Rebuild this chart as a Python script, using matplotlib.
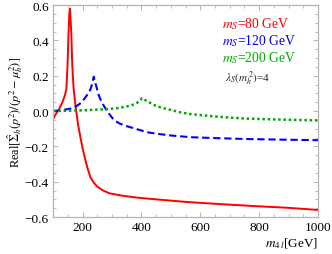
import numpy as np
import matplotlib
matplotlib.use("Agg")
import matplotlib.pyplot as plt
from matplotlib.ticker import MultipleLocator

plt.rcParams['font.family'] = ['Liberation Serif', 'DejaVu Serif']
plt.rcParams['mathtext.fontset'] = 'stix'

# m_S = 80 GeV
m_red = [100, 108, 120, 130, 135, 140, 145, 149, 152.5, 155, 157, 159, 161.6, 165, 169.5, 174,
         178.6, 185, 193, 200, 210, 218, 227, 238, 250, 270, 290, 330, 385, 450, 555, 650, 783, 900, 1000]
v_red = [-0.045, -0.02, 0.01, 0.045, 0.065, 0.09, 0.125, 0.26, 0.447, 0.55, 0.58, 0.53, 0.447, 0.26, 0.13, 0.06,
         0.0, -0.08, -0.151, -0.21, -0.28, -0.33, -0.376, -0.405, -0.428, -0.45, -0.465, -0.478, -0.49, -0.50, -0.515, -0.525, -0.538, -0.548, -0.56]

# m_S = 120 GeV
m_blue = [100, 130, 169, 190, 203, 215, 226, 233, 238, 245, 255, 265, 277, 290, 306, 325,
          351, 380, 419, 460, 499, 567, 650, 750, 850, 1000]
v_blue = [0.0, 0.005, 0.017, 0.04, 0.063, 0.09, 0.12, 0.155, 0.195, 0.15, 0.09, 0.05, 0.017, -0.015, -0.05, -0.07,
          -0.086, -0.10, -0.12, -0.13, -0.138, -0.148, -0.153, -0.158, -0.161, -0.165]

# m_S = 200 GeV
m_green = [100, 150, 214, 282, 320, 350, 370, 384, 395, 402, 415, 442, 470, 499, 534, 567,
           646, 700, 761, 870, 1000]
v_green = [0.0, 0.002, 0.005, 0.011, 0.017, 0.026, 0.035, 0.045, 0.06, 0.073, 0.06, 0.035, 0.018, 0.007, -0.008, -0.017,
           -0.03, -0.037, -0.043, -0.048, -0.053]

fig = plt.figure(figsize=(3.32, 2.55), dpi=100)
ax = fig.add_axes([0.16, 0.145, 0.798, 0.831])

ax.plot(m_red, v_red, color='#ff0000', lw=1.4)
ax.plot(m_blue, v_blue, color='#0000ff', lw=1.5, ls=(0, (3.5, 1.8)))
ax.plot(m_green, v_green, color='#00aa00', lw=1.8, ls=(0, (1, 1.1)))

ax.set_xlim(100, 1000)
ax.set_ylim(-0.6, 0.6)
ax.xaxis.set_major_locator(MultipleLocator(200))
ax.xaxis.set_minor_locator(MultipleLocator(50))
ax.yaxis.set_major_locator(MultipleLocator(0.2))
ax.yaxis.set_minor_locator(MultipleLocator(0.05))
ax.yaxis.set_major_formatter(plt.FuncFormatter(lambda v, p: ('%.1f' % v).replace('-', '\u2212')))

for s in ax.spines.values():
    s.set_color('#b4b4b4')
    s.set_linewidth(0.9)
ax.tick_params(which='both', direction='in', top=True, right=True, color='#b4b4b4',
               labelsize=9.5, labelcolor='black', pad=3)
ax.tick_params(which='major', length=3.5, width=0.7)
ax.tick_params(which='minor', length=2, width=0.6)

ax.set_ylabel(r'Real$[\hat{\Sigma}_h(p^2)/(p^2-\mu_h^{2})]$', fontsize=8.8, labelpad=0)
fig.text(0.958, 0.015, r'$m_{4\,l}$[GeV]', ha='right', va='bottom', fontsize=9.5)

fs = 9.8
fig.text(222 / 332, 1 - 24 / 255, r'$m_S$=80 GeV', color='#ff0000', fontsize=fs, va='center')
fig.text(222 / 332, 1 - 41.5 / 255, r'$m_S$=120 GeV', color='#0000ff', fontsize=fs, va='center')
fig.text(222 / 332, 1 - 58 / 255, r'$m_S$=200 GeV', color='#00aa00', fontsize=fs, va='center')
fig.text(225 / 332, 1 - 79 / 255, r'$\lambda_S(m_h^{\,2})$=4', color='#222222', fontsize=8, va='center')

fig.savefig('out.png', dpi=100)
